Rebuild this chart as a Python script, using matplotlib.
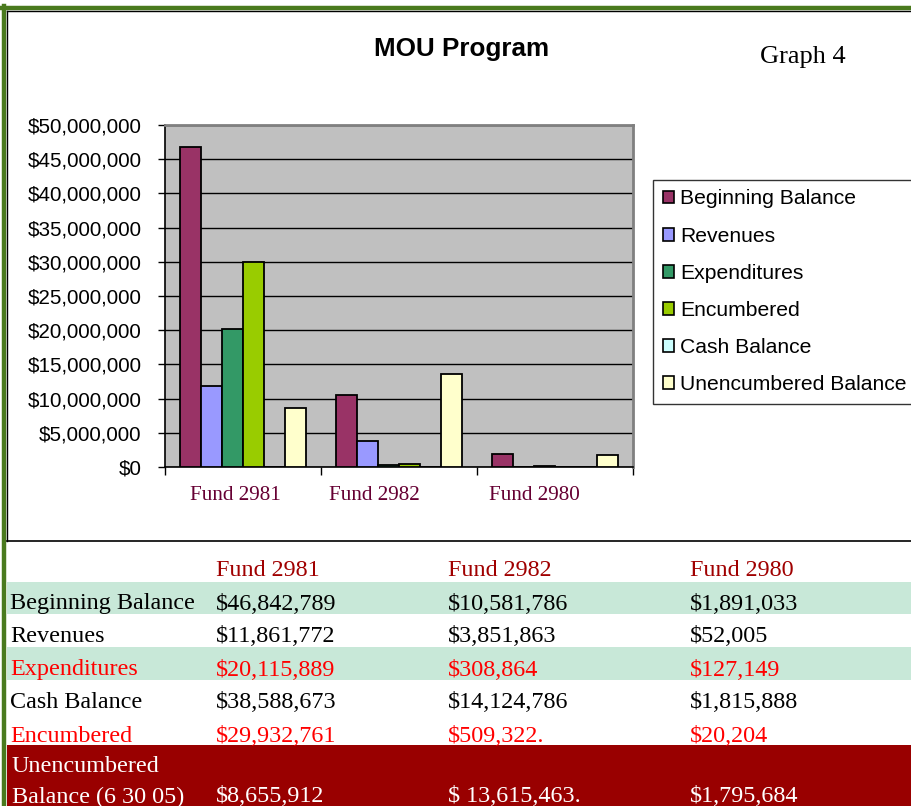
import matplotlib
matplotlib.use("Agg")
import matplotlib.pyplot as plt
from matplotlib.patches import Patch, Rectangle
from matplotlib.lines import Line2D
from matplotlib.ticker import FuncFormatter, FixedLocator
import numpy as np

W, H = 912, 806

# ---------------- data ----------------
funds = ["Fund 2981", "Fund 2982", "Fund 2980"]
series_names = ["Beginning Balance", "Revenues", "Expenditures", "Encumbered",
                "Cash Balance", "Unencumbered Balance"]
beginning_balance = [46842789, 10581786, 1891033]
revenues = [11861772, 3851863, 52005]
expenditures = [20115889, 308864, 127149]
encumbered = [29932761, 509322, 20204]
cash_balance_chart = [0, 0, 0]          # not plotted in the chart
unencumbered_balance = [8655912, 13615463, 1795684]
series_colors = ["#993366", "#9999FF", "#339966", "#99CC00", "#CCFFFF", "#FFFFCC"]

yticks = [0, 5e6, 10e6, 15e6, 20e6, 25e6, 30e6, 35e6, 40e6, 45e6, 50e6]

table_header = ["Fund 2981", "Fund 2982", "Fund 2980"]
table_labels = ["Beginning Balance", "Revenues", "Expenditures", "Cash Balance", "Encumbered"]
table_rows = [
    ["$46,842,789", "$10,581,786", "$1,891,033"],
    ["$11,861,772", "$3,851,863", "$52,005"],
    ["$20,115,889", "$308,864", "$127,149"],
    ["$38,588,673", "$14,124,786", "$1,815,888"],
    ["$29,932,761", "$509,322.", "$20,204"],
]
last_label = ["Unencumbered", "Balance (6 30 05)"]
last_row = ["$8,655,912", "$ 13,615,463.", "$1,795,684"]

# ---------------- figure ----------------
fig = plt.figure(figsize=(W / 100, H / 100), dpi=100)
fig.patch.set_facecolor("white")

def fx(x):
    return x / W

def fy(y):
    return 1 - y / H

# chart axes
ax_l, ax_r, ax_t, ax_b = 165, 633, 125, 467
ax = fig.add_axes([fx(ax_l), fy(ax_b), fx(ax_r - ax_l), (ax_b - ax_t) / H])
ax.set_facecolor("#C0C0C0")

all_series = [beginning_balance, revenues, expenditures, encumbered,
              cash_balance_chart, unencumbered_balance]
cat_px = (ax_r - ax_l) / 3.0
bw = 21 / cat_px
off0 = 15 / cat_px
x = np.arange(len(funds))
for j, (vals, col) in enumerate(zip(all_series, series_colors)):
    ax.bar(x + off0 + j * bw, vals, width=bw, align="edge", color=col,
           edgecolor="black", linewidth=1.3, zorder=3)

ax.set_xlim(0, 3)
ax.set_ylim(0, 50e6)
ax.set_yticks(yticks)
ax.yaxis.set_major_formatter(FuncFormatter(lambda v, p: "${:,.0f}".format(v)))
ax.grid(axis="y", color="black", linewidth=1.0, zorder=1)
ax.set_axisbelow(True)
ax.tick_params(axis="y", direction="out", length=5, width=1, pad=12,
               labelsize=14.9, colors="black")
for lbl in ax.get_yticklabels():
    lbl.set_fontfamily("Liberation Sans")

ax.xaxis.set_major_locator(FixedLocator([0, 1, 2, 3]))
ax.tick_params(axis="x", which="major", direction="out", length=6, width=1,
               labelbottom=False)
label_pos = [(235 - ax_l) / cat_px, (374 - ax_l) / cat_px, (534 - ax_l) / cat_px]
ax.set_xticks(label_pos, minor=True)
ax.set_xticklabels(funds, minor=True, fontfamily="Liberation Serif",
                   fontsize=15.2, color="#660033")
ax.tick_params(axis="x", which="minor", length=0, pad=14)

for s in ["left", "bottom"]:
    ax.spines[s].set_color("black")
    ax.spines[s].set_linewidth(1.2)
for s in ["top", "right"]:
    ax.spines[s].set_color("#808080")
    ax.spines[s].set_linewidth(2)

# legend
handles = [Patch(facecolor=c, edgecolor="black", linewidth=1.2) for c in series_colors]
leg = fig.legend(handles, series_names, loc="upper left",
                 bbox_to_anchor=(fx(653), fy(180)), borderaxespad=0,
                 prop={"family": "Liberation Sans", "size": 15.2},
                 handlelength=0.55, handleheight=0.55, handletextpad=0.3,
                 labelspacing=0.86, borderpad=0.45, frameon=True,
                 fancybox=False, edgecolor="black")
leg.get_frame().set_linewidth(1.0)

# titles
fig.text(fx(462), fy(49), "MOU Program", ha="center", va="center",
         fontfamily="Liberation Sans", fontweight="bold", fontsize=18.7)
fig.text(fx(803), fy(57), "Graph 4", ha="center", va="center",
         fontfamily="Liberation Serif", fontsize=19)

# frame lines
fig.add_artist(Line2D([fx(2), fx(912)], [fy(8), fy(8)], color="#4A7A1E", linewidth=3.2))
fig.add_artist(Line2D([fx(4.5), fx(4.5)], [fy(6), fy(806)], color="#4A7A1E", linewidth=3.2))
fig.add_artist(Line2D([fx(7), fx(912)], [fy(11), fy(11)], color="black", linewidth=1.0))
fig.add_artist(Line2D([fx(7.5), fx(7.5)], [fy(11), fy(541)], color="black", linewidth=1.0))
fig.add_artist(Line2D([fx(7), fx(912)], [fy(541), fy(541)], color="black", linewidth=1.2))

# ---------------- table ----------------
col_x = [10, 216, 448, 690]
tfs = 17.4
tfam = "Liberation Serif"

for (y0, y1, col) in [(582, 614, "#C8E8D8"), (647, 680, "#C8E8D8"), (745, 806, "#990000")]:
    fig.add_artist(Rectangle((fx(7), fy(y1)), fx(912 - 7), (y1 - y0) / H,
                             facecolor=col, edgecolor="none", zorder=0))

header_y = 571
for i, h in enumerate(table_header):
    fig.text(fx(col_x[i + 1]), fy(header_y), h, ha="left", va="center",
             fontfamily=tfam, fontsize=tfs, color="#A00000")

row_y = [604, 637, 670, 703, 736]
row_colors = ["black", "black", "#FF0000", "black", "#FF0000"]
for r, (lab, vals) in enumerate(zip(table_labels, table_rows)):
    fig.text(fx(col_x[0]), fy(row_y[r]), lab, ha="left", va="center",
             fontfamily=tfam, fontsize=tfs, color=row_colors[r])
    for i, v in enumerate(vals):
        fig.text(fx(col_x[i + 1]), fy(row_y[r]), v, ha="left", va="center",
                 fontfamily=tfam, fontsize=tfs, color=row_colors[r])

fig.text(fx(col_x[0] + 2), fy(766), last_label[0], ha="left", va="center",
         fontfamily=tfam, fontsize=tfs, color="white")
fig.text(fx(col_x[0] + 2), fy(797), last_label[1], ha="left", va="center",
         fontfamily=tfam, fontsize=tfs, color="white")
for i, v in enumerate(last_row):
    fig.text(fx(col_x[i + 1]), fy(797), v, ha="left", va="center",
             fontfamily=tfam, fontsize=tfs, color="white")

fig.savefig("out.png", dpi=100)
